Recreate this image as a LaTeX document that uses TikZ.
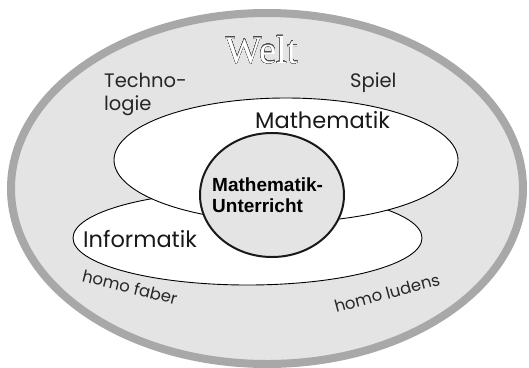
\documentclass[tikz,border=0pt]{standalone}
\usepackage{fontspec}
\setmainfont{Liberation Serif}
\newfontfamily\geofont{Poppins}
\newfontfamily\handfont{Poppins}
\newfontfamily\boldsans{Liberation Sans}
\usepackage[copies]{contour}
\contourlength{0.25pt}
\contournumber{32}
\definecolor{worldfill}{HTML}{E4E4E4}
\definecolor{worldrim}{HTML}{A8A8A8}
\begin{document}
\begin{tikzpicture}[x=1pt,y=-1pt,
  world/.style={draw=worldrim,fill=worldfill,line width=8pt},
  field/.style={draw=black,fill=white,line width=0.9pt},
  core/.style={draw=black!90,fill=worldfill,line width=2pt},
  handtext/.style={font=\handfont\fontsize{19.5}{24}\selectfont,text=black!85,align=left},
  smallhand/.style={font=\handfont\fontsize{16.5}{18}\selectfont,text=black!85},
  fieldtext/.style={font=\geofont\fontsize{22.5}{24}\selectfont,text=black!90},
  coretext/.style={font=\boldsans\bfseries\fontsize{19}{21}\selectfont,text=black,align=left}]
\useasboundingbox (0,0) rectangle (529,367);
\draw[world] (267,188.5) ellipse [x radius=256, y radius=175.5];
\draw[field] (247.5,238) ellipse [x radius=174.5, y radius=47];
\draw[field] (286,160) ellipse [x radius=172, y radius=62];
\draw[core] (272,195) ellipse [x radius=72, y radius=62];
\node (welt) at (262,50) {\fontsize{39}{40}\selectfont\textcolor{white}{\contour{black!70}{Welt}}};
\node[handtext,anchor=base west,inner sep=0pt] (tech) at (104,87) {Techno-};
\node[handtext,anchor=base west,inner sep=0pt] (logie) at (104,110) {logie};
\node[handtext,anchor=base west,inner sep=0pt] (spiel) at (350,87) {Spiel};
\node[fieldtext,anchor=base west,inner sep=0pt] (math) at (255,128) {Mathematik};
\node[fieldtext,anchor=base west,inner sep=0pt] (info) at (83,247) {Informatik};
\node[coretext,anchor=base west,inner sep=0pt] (mu) at (212,191) {Mathematik-};
\node[coretext,anchor=base west,inner sep=0pt] (ut) at (212,212) {Unterricht};
\node[smallhand,rotate=-14] (faber) at (130,287) {homo faber};
\node[smallhand,rotate=15] (ludens) at (387,293) {homo ludens};
\end{tikzpicture}
\end{document}
